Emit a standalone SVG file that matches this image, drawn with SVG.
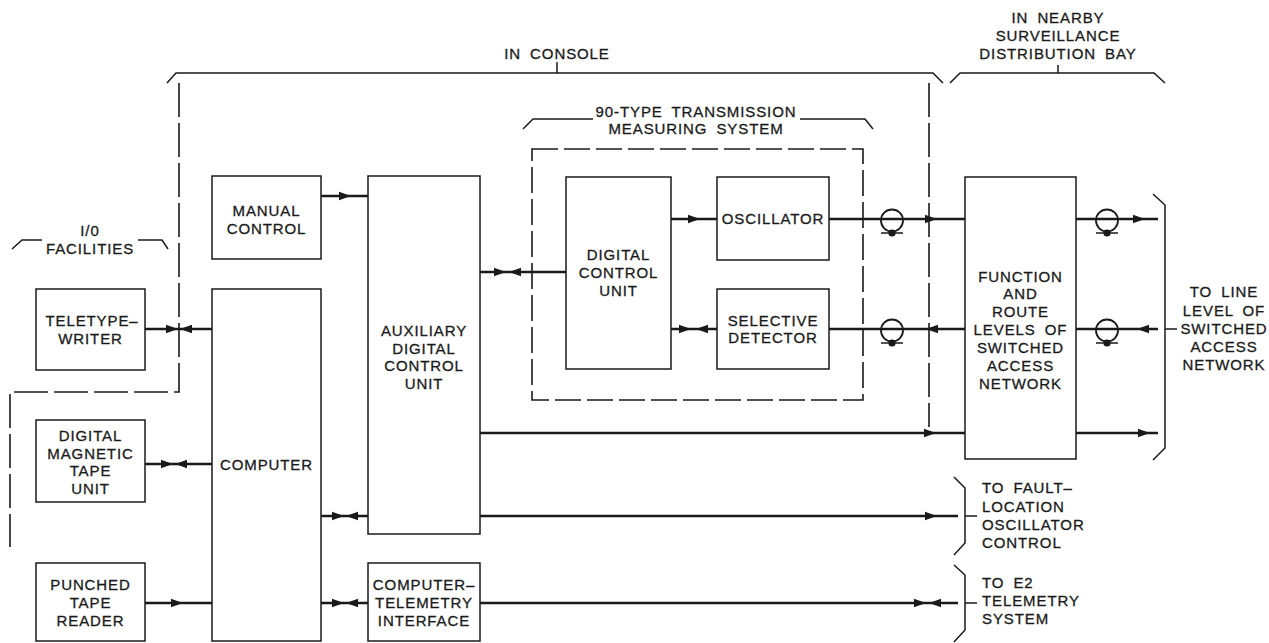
<svg xmlns="http://www.w3.org/2000/svg" xmlns:xlink="http://www.w3.org/1999/xlink" width="1269" height="643" viewBox="0 0 1269 643">
<style>
.bg{fill:#fff}
.box{fill:none;stroke:#1a1a1a;stroke-width:1.5}
.ln{fill:none;stroke:#1a1a1a;stroke-width:2.6}
.thin{fill:none;stroke:#1a1a1a;stroke-width:1.5}
.dash1{fill:none;stroke:#1a1a1a;stroke-width:1.6;stroke-dasharray:34 6}
.dash2{fill:none;stroke:#1a1a1a;stroke-width:1.6;stroke-dasharray:26 6}
.t{font-family:"Liberation Sans",Arial,Helvetica,sans-serif;font-size:15px;fill:#1a1a1a;stroke:#1a1a1a;stroke-width:0.3;text-anchor:middle;letter-spacing:0.9px;word-spacing:4px}
.ts{text-anchor:start}
.ah{fill:#1a1a1a}
</style>
<defs>
<path id="ar" class="ah" d="M0,0 L-12,-4.2 L-12,4.2 Z"/>
<path id="al" class="ah" d="M0,0 L12,-4.2 L12,4.2 Z"/>
<g id="coil">
<circle cx="0" cy="1.5" r="11" fill="none" stroke="#1a1a1a" stroke-width="1.8"/>
<circle cx="0" cy="14" r="3.6" fill="#1a1a1a"/>
<line x1="-11" y1="14" x2="11" y2="14" stroke="#1a1a1a" stroke-width="1.5"/>
</g>
</defs>
<rect class="bg" x="0" y="0" width="1269" height="643"/>

<g id="groupings">
<path class="dash1" d="M179,83 L179,392 L10,392 L10,547"/>
<path class="dash1" d="M929,83 L929,427"/>
<path class="thin" d="M167,83 L176,73 L933,73 L943,83 M557,73 L557,62"/>
<text class="t" x="557" y="59">IN CONSOLE</text>
<path class="thin" d="M950,83 L960,73 L1154,73 L1165,83 M1058,73 L1058,65"/>
<text class="t" x="1058" y="23">IN NEARBY</text>
<text class="t" x="1058" y="41">SURVEILLANCE</text>
<text class="t" x="1058" y="59">DISTRIBUTION BAY</text>
<path class="thin" d="M12,249 L22,240 L42,240 M138,240 L162,240 L168,249"/>
<text class="t" x="90" y="236">I/0</text>
<text class="t" x="90" y="254">FACILITIES</text>
<rect class="dash2" x="532" y="149" width="331" height="251"/>
<path class="thin" d="M523,129 L533,119 L593,119 M800,119 L865,119 L873,129"/>
<text class="t" x="696" y="117">90-TYPE TRANSMISSION</text>
<text class="t" x="696" y="134">MEASURING SYSTEM</text>
<path class="thin" d="M1153,194 L1165,205 L1165,448 L1153,460 M1165,329 L1177,329"/>
<text class="t" x="1224" y="297">TO LINE</text>
<text class="t" x="1224" y="316">LEVEL OF</text>
<text class="t" x="1224" y="334">SWITCHED</text>
<text class="t" x="1224" y="352">ACCESS</text>
<text class="t" x="1224" y="370">NETWORK</text>
<path class="thin" d="M954,477 L965,488 L965,543 L954,555 M965,516 L977,516"/>
<text class="t ts" x="982" y="493">TO FAULT–</text>
<text class="t ts" x="982" y="512">LOCATION</text>
<text class="t ts" x="982" y="530">OSCILLATOR</text>
<text class="t ts" x="982" y="548">CONTROL</text>
<path class="thin" d="M954,565 L965,575 L965,630 L954,642 M965,603 L977,603"/>
<text class="t ts" x="982" y="588">TO E2</text>
<text class="t ts" x="982" y="606">TELEMETRY</text>
<text class="t ts" x="982" y="624">SYSTEM</text>
</g>

<g id="connectors">
<path class="ln" d="M321,196 L368,196"/>
<use href="#ar" x="351" y="196"/>
<path class="ln" d="M145,329 L212,329"/>
<use href="#ar" x="178" y="329"/><use href="#al" x="180" y="329"/>
<path class="ln" d="M145,464 L212,464"/>
<use href="#ar" x="173" y="464"/><use href="#al" x="175" y="464"/>
<path class="ln" d="M145,603 L212,603"/>
<use href="#ar" x="183" y="603"/>
<path class="ln" d="M321,516 L368,516"/>
<use href="#ar" x="344" y="516"/><use href="#al" x="346" y="516"/>
<path class="ln" d="M321,603 L368,603"/>
<use href="#ar" x="344" y="603"/><use href="#al" x="346" y="603"/>
<path class="ln" d="M480,272 L566,272"/>
<use href="#ar" x="506" y="272"/><use href="#al" x="509" y="272"/>
<path class="ln" d="M671,219 L717,219"/>
<use href="#ar" x="700" y="219"/>
<path class="ln" d="M671,329 L717,329"/>
<use href="#ar" x="691" y="329"/><use href="#al" x="696" y="329"/>
<path class="ln" d="M829,219 L965,219"/>
<use href="#coil" x="892" y="219"/>
<use href="#ar" x="937" y="219"/>
<path class="ln" d="M829,329 L965,329"/>
<use href="#coil" x="892" y="329"/>
<use href="#al" x="926" y="329"/>
<path class="ln" d="M480,433 L965,433"/>
<use href="#ar" x="936" y="433"/>
<path class="ln" d="M1076,219 L1158,219"/>
<use href="#coil" x="1107" y="219"/>
<use href="#ar" x="1145" y="219"/>
<path class="ln" d="M1076,329 L1158,329"/>
<use href="#coil" x="1107" y="329"/>
<use href="#al" x="1137" y="329"/>
<path class="ln" d="M1076,433 L1158,433"/>
<use href="#ar" x="1150" y="433"/>
<path class="ln" d="M480,516 L958,516"/>
<use href="#ar" x="937" y="516"/>
<path class="ln" d="M480,603 L958,603"/>
<use href="#ar" x="926" y="603"/><use href="#al" x="929" y="603"/>
</g>

<g id="manual-control">
<rect class="box" x="212" y="176" width="109" height="83"/>
<text class="t" x="266.5" y="216">MANUAL</text>
<text class="t" x="266.5" y="234">CONTROL</text>
</g>
<g id="teletypewriter">
<rect class="box" x="36" y="289" width="109" height="81"/>
<text class="t" x="92" y="326">TELETYPE–</text>
<text class="t" x="90.5" y="344">WRITER</text>
</g>
<g id="magnetic-tape">
<rect class="box" x="36" y="420" width="109" height="82"/>
<text class="t" x="90.5" y="441">DIGITAL</text>
<text class="t" x="90.5" y="459">MAGNETIC</text>
<text class="t" x="90.5" y="476">TAPE</text>
<text class="t" x="90.5" y="494">UNIT</text>
</g>
<g id="punched-tape">
<rect class="box" x="36" y="563" width="109" height="78"/>
<text class="t" x="90.5" y="590">PUNCHED</text>
<text class="t" x="90.5" y="608">TAPE</text>
<text class="t" x="90.5" y="626">READER</text>
</g>
<g id="computer">
<rect class="box" x="212" y="289" width="109" height="352"/>
<text class="t" x="266.5" y="470">COMPUTER</text>
</g>
<g id="aux-dcu">
<rect class="box" x="368" y="176" width="112" height="358"/>
<text class="t" x="424" y="336">AUXILIARY</text>
<text class="t" x="424" y="354">DIGITAL</text>
<text class="t" x="424" y="371">CONTROL</text>
<text class="t" x="424" y="389">UNIT</text>
</g>
<g id="cti">
<rect class="box" x="368" y="563" width="112" height="78"/>
<text class="t" x="424" y="590">COMPUTER–</text>
<text class="t" x="424" y="608">TELEMETRY</text>
<text class="t" x="424" y="626">INTERFACE</text>
</g>
<g id="dcu">
<rect class="box" x="566" y="177" width="105" height="192"/>
<text class="t" x="618.5" y="260">DIGITAL</text>
<text class="t" x="618.5" y="278">CONTROL</text>
<text class="t" x="618.5" y="296">UNIT</text>
</g>
<g id="oscillator">
<rect class="box" x="717" y="177" width="112" height="83"/>
<text class="t" x="773" y="224">OSCILLATOR</text>
</g>
<g id="selective-detector">
<rect class="box" x="717" y="289" width="112" height="80"/>
<text class="t" x="773" y="326">SELECTIVE</text>
<text class="t" x="773" y="343">DETECTOR</text>
</g>
<g id="frl">
<rect class="box" x="965" y="177" width="111" height="282"/>
<text class="t" x="1020.5" y="282">FUNCTION</text>
<text class="t" x="1020.5" y="299">AND</text>
<text class="t" x="1020.5" y="317">ROUTE</text>
<text class="t" x="1020.5" y="335">LEVELS OF</text>
<text class="t" x="1020.5" y="353">SWITCHED</text>
<text class="t" x="1020.5" y="371">ACCESS</text>
<text class="t" x="1020.5" y="389">NETWORK</text>
</g>
</svg>
